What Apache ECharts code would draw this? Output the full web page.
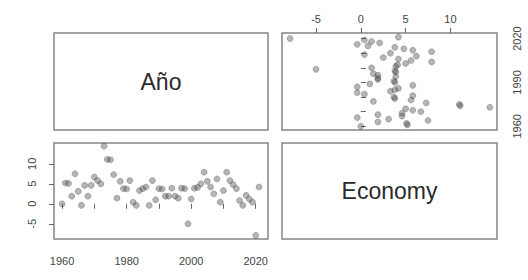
<!DOCTYPE html>
<html>
<head>
<meta charset="utf-8">
<script src="https://cdn.jsdelivr.net/npm/echarts@6/dist/echarts.min.js"></script>
<style>
html,body{margin:0;padding:0;background:#fff;}
#c{width:528px;height:280px;}
</style>
</head>
<body>
<div id="c"></div>
<script>
// Variable names (diagonal panels)
const varNames = ['Año', 'Economy'];

// Observations: year and economy value
const years = [1960,1961,1962,1963,1964,1965,1966,1967,1968,1969,
               1970,1971,1972,1973,1974,1975,1976,1977,1978,1979,
               1980,1981,1982,1983,1984,1985,1986,1987,1988,1989,
               1990,1991,1992,1993,1994,1995,1996,1997,1998,1999,
               2000,2001,2002,2003,2004,2005,2006,2007,2008,2009,
               2010,2011,2012,2013,2014,2015,2016,2017,2018,2019,
               2020,2021];
const economy = [0.0,5.2,5.1,1.9,7.5,3.1,-0.4,4.6,1.9,4.6,
                 6.7,5.8,5.0,14.4,11.1,11.0,7.3,1.4,5.6,3.8,
                 3.7,5.8,0.4,-0.4,3.3,3.8,4.2,-0.4,5.8,1.0,
                 3.8,3.7,1.9,1.9,3.9,1.9,1.4,3.9,3.8,-5.0,
                 1.2,3.9,4.1,5.0,7.9,5.6,4.2,2.5,6.2,0.4,
                 3.3,7.9,5.8,4.8,3.8,0.8,-0.4,2.1,1.2,0.4,
                 -7.9,4.2];

// Tick positions and labels
const yearTicks = [1960,1970,1980,1990,2000,2010,2020];
const yearLabelsBottom = [1960,1980,2000,2020];
const yearLabelsRight = [1960,1990,2020];
const econTicks = [-5,0,5,10];
const econLabels = [-5,0,5,10];

const yearRange = [1957.5, 2023.8];
const econRange = [-8.8, 15.2];

const chart = echarts.init(document.getElementById('c'), null, {renderer:'svg'});

const boxColor = '#858585';
const fmt = v => String(v);
const labelStyle = {fontSize: 11, color: '#444', fontFamily: 'Liberation Sans, Arial, sans-serif', formatter: fmt};
const tickStyle = {show:true, inside:false, length:5, lineStyle:{color:'#666', width:1}};

const grids = [
  {left:54,  top:33,  width:214, height:97},
  {left:282, top:33,  width:215, height:97},
  {left:54,  top:143, width:214, height:96},
  {left:282, top:143, width:215, height:96}
].map(g => Object.assign({show:true, borderColor:boxColor, borderWidth:1.5, backgroundColor:'transparent', containLabel:false}, g));

function hiddenAxis(i){
  return {type:'value', gridIndex:i, show:false, min:0, max:1};
}

const xAxis = [
  hiddenAxis(0),
  {type:'value', gridIndex:1, position:'top', min:econRange[0], max:econRange[1],
   axisLine:{show:false}, splitLine:{show:false},
   axisTick:Object.assign({customValues:econTicks}, tickStyle),
   axisLabel:Object.assign({customValues:econLabels, margin:9}, labelStyle)},
  {type:'value', gridIndex:2, position:'bottom', min:yearRange[0], max:yearRange[1],
   axisLine:{show:false}, splitLine:{show:false},
   axisTick:Object.assign({customValues:yearTicks}, tickStyle),
   axisLabel:Object.assign({customValues:yearLabelsBottom, margin:16}, labelStyle)},
  hiddenAxis(3)
];

const yAxis = [
  hiddenAxis(0),
  {type:'value', gridIndex:1, position:'right', min:yearRange[0], max:yearRange[1],
   axisLine:{show:false}, splitLine:{show:false},
   axisTick:Object.assign({customValues:yearTicks}, tickStyle),
   axisLabel:Object.assign({customValues:yearLabelsRight, rotate:90, margin:14}, labelStyle)},
  {type:'value', gridIndex:2, position:'left', min:econRange[0], max:econRange[1],
   axisLine:{show:false}, splitLine:{show:false},
   axisTick:Object.assign({customValues:econTicks}, tickStyle),
   axisLabel:Object.assign({customValues:econLabels, rotate:90, margin:17}, labelStyle)},
  hiddenAxis(3)
];

const pointStyle = {color:'rgba(70,70,70,0.5)', borderColor:'rgba(60,60,60,0.45)', borderWidth:0.8};

const option = {
  animation:false,
  backgroundColor:'#fff',
  grid: grids,
  xAxis: xAxis,
  yAxis: yAxis,
  series: [
    {type:'scatter', xAxisIndex:2, yAxisIndex:2, symbolSize:6, itemStyle:pointStyle,
     data: years.map((y,i)=>[y, economy[i]])},
    {type:'scatter', xAxisIndex:1, yAxisIndex:1, symbolSize:6, itemStyle:pointStyle,
     data: years.map((y,i)=>[economy[i], y])}
  ],
  graphic: [
    {type:'text', x:54+214/2, y:33+97/2, style:{text:varNames[0], fontSize:23, fontFamily:'Liberation Sans, Arial, sans-serif', fill:'#2a2a2a', align:'center', verticalAlign:'middle'}},
    {type:'text', x:282+215/2, y:143+96/2, style:{text:varNames[1], fontSize:23, fontFamily:'Liberation Sans, Arial, sans-serif', fill:'#2a2a2a', align:'center', verticalAlign:'middle'}}
  ]
};
chart.setOption(option);
</script>
</body>
</html>
